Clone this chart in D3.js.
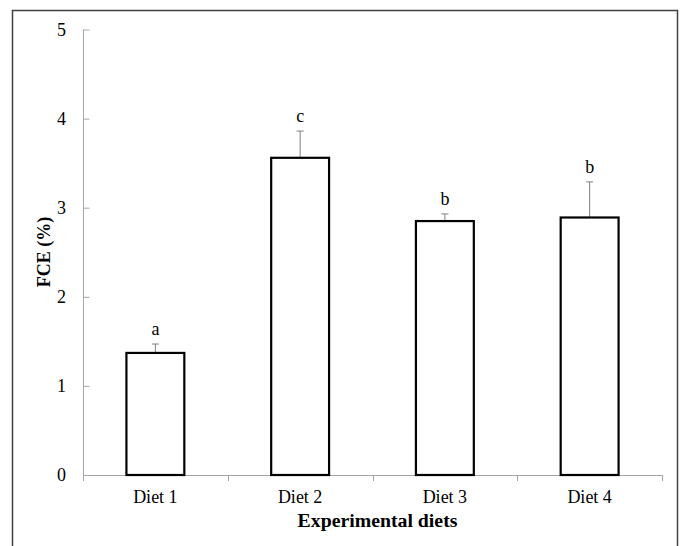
<!DOCTYPE html>
<html>
<head>
<meta charset="utf-8">
<script src="https://cdn.jsdelivr.net/npm/d3@7"></script>
<style>
  html, body { margin: 0; padding: 0; background: #fff; }
  svg { display: block; }
  text { font-family: "Liberation Serif", "Times New Roman", serif; }
</style>
</head>
<body>
<svg id="chart" width="682" height="546"></svg>
<script>
// Feed conversion efficiency by diet
const diets = ["Diet 1", "Diet 2", "Diet 3", "Diet 4"];
const fce = [1.37, 3.56, 2.85, 2.89];
const fceErr = [0.10, 0.30, 0.08, 0.40];
const groups = ["a", "c", "b", "b"];
const yTicks = [0, 1, 2, 3, 4, 5];

const svg = d3.select("#chart");
const W = 682, H = 546;

// Outer frame (open at the bottom)
svg.append("path")
  .attr("d", `M12.5,${H} L12.5,10.5 L677.5,10.5 L677.5,${H}`)
  .attr("fill", "none")
  .attr("stroke", "#404040")
  .attr("stroke-width", 1.5);

const plot = { left: 83, right: 662, top: 29.5, bottom: 475 };

const x = d3.scaleBand()
  .domain(diets)
  .range([plot.left, plot.right])
  .paddingInner(0.6)
  .paddingOuter(0.3);

const y = d3.scaleLinear()
  .domain([0, 5])
  .range([plot.bottom, plot.top]);

const axisColor = "#a6a6a6";

// Y axis with inward ticks
const yAxis = svg.append("g")
  .attr("transform", `translate(${plot.left},0)`)
  .call(d3.axisRight(y).tickValues(yTicks).tickSize(6).tickFormat(d3.format("d")));
yAxis.select(".domain").attr("stroke", axisColor).attr("d", `M0.5,${y(5)}V${y(0)}`);
yAxis.selectAll(".tick line").attr("stroke", axisColor).attr("transform", "translate(0.5,0)");
yAxis.selectAll(".tick text")
  .attr("x", -17)
  .attr("text-anchor", "end")
  .attr("fill", "#000")
  .style("font-size", "18px")
  .style("font-family", "'Liberation Serif', serif");

// X axis: boundary ticks between categories
const bounds = d3.range(diets.length + 1).map(i => plot.left + i * (plot.right - plot.left) / diets.length);
const xg = svg.append("g");
xg.append("line")
  .attr("x1", plot.left).attr("x2", plot.right)
  .attr("y1", plot.bottom + 0.5).attr("y2", plot.bottom + 0.5)
  .attr("stroke", axisColor);
xg.selectAll("line.tk").data(bounds).join("line")
  .attr("class", "tk")
  .attr("x1", d => Math.round(d) + 0.5).attr("x2", d => Math.round(d) + 0.5)
  .attr("y1", plot.bottom).attr("y2", plot.bottom + 6)
  .attr("stroke", axisColor);
xg.selectAll("text").data(diets).join("text")
  .attr("x", d => x(d) + x.bandwidth() / 2)
  .attr("y", 503)
  .attr("text-anchor", "middle")
  .style("font-size", "18px")
  .text(d => d);

const data = diets.map((d, i) => ({ diet: d, v: fce[i], e: fceErr[i], g: groups[i] }));

// Error bars (upper only)
const eg = svg.append("g").attr("stroke", "#7f7f7f").attr("stroke-width", 1);
eg.selectAll("line.stem").data(data).join("line")
  .attr("x1", d => x(d.diet) + x.bandwidth() / 2)
  .attr("x2", d => x(d.diet) + x.bandwidth() / 2)
  .attr("y1", d => y(d.v))
  .attr("y2", d => y(d.v + d.e));
eg.selectAll("line.cap").data(data).join("line")
  .attr("x1", d => x(d.diet) + x.bandwidth() / 2 - 3.5)
  .attr("x2", d => x(d.diet) + x.bandwidth() / 2 + 3.5)
  .attr("y1", d => y(d.v + d.e))
  .attr("y2", d => y(d.v + d.e));

// Bars
svg.append("g").selectAll("rect").data(data).join("rect")
  .attr("x", d => x(d.diet))
  .attr("y", d => y(d.v))
  .attr("width", x.bandwidth())
  .attr("height", d => y(0) - y(d.v))
  .attr("fill", "#fff")
  .attr("stroke", "#000")
  .attr("stroke-width", 2.2);

// Significance letters
svg.append("g").selectAll("text").data(data).join("text")
  .attr("x", d => x(d.diet) + x.bandwidth() / 2)
  .attr("y", d => y(d.v + d.e) - 9)
  .attr("text-anchor", "middle")
  .style("font-size", "18px")
  .text(d => d.g);

// Axis titles
svg.append("text")
  .attr("transform", `translate(50,252) rotate(-90)`)
  .attr("text-anchor", "middle")
  .style("font-size", "18px")
  .style("font-weight", "bold")
  .text("FCE (%)");

svg.append("text")
  .attr("x", (plot.left + plot.right) / 2 + 5)
  .attr("y", 527)
  .attr("text-anchor", "middle")
  .style("font-size", "19.8px")
  .style("font-weight", "bold")
  .text("Experimental diets");
</script>
</body>
</html>
